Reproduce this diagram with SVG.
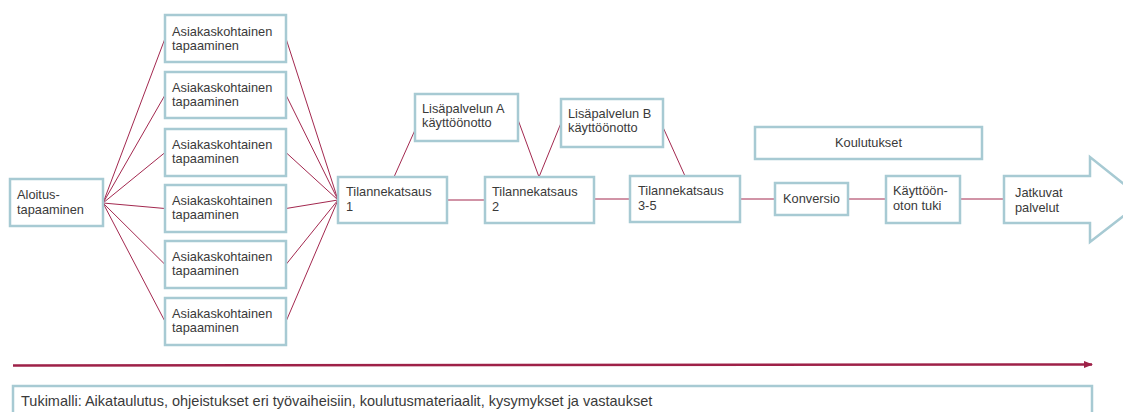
<svg xmlns="http://www.w3.org/2000/svg" width="1123" height="412" viewBox="0 0 1123 412">
<style>
.box{fill:#fff;stroke:#a7cad3;stroke-width:2.5}
.t{font-family:"Liberation Sans",Arial,sans-serif;font-size:12.8px;fill:#3a3a3a}
.c{stroke:#a3284f;stroke-width:1;fill:none}
</style>
<defs>
<marker id="ah" markerWidth="9" markerHeight="8" refX="8" refY="4" orient="auto" markerUnits="userSpaceOnUse">
<path d="M0,0.5 L9,4 L0,7.5 Z" fill="#9e2148"/>
</marker>
</defs>
<rect width="1123" height="412" fill="#fff"/>
<g id="connectors">
<path class="c" d="M103,203 L165,38.5 M103,203 L165,95 M103,203 L165,152.5 M103,203 L165,208.5 M103,203 L165,264.5 M103,203 L165,321.5"/>
<path class="c" d="M286,38.5 L338,200 M286,95 L338,200 M286,152.5 L338,200 M286,208.5 L338,200 M286,264.5 L338,200 M286,321.5 L338,200"/>
<path class="c" d="M394,177 L415,130 M517,117 L539,177 L561,123 M662,125 L685,176"/>
<path class="c" d="M447,200 L485,200 M594,199 L630,199 M740,199 L775,199 M848,199 L886,199 M960,199 L1004,199"/>
<line x1="13" y1="365.5" x2="1092" y2="364.5" stroke="#9e2148" stroke-width="2.5" marker-end="url(#ah)"/>
</g>
<g id="aloitus"><rect class="box" x="10" y="179" width="93" height="47"/><text class="t" x="17" y="199">Aloitus-</text><text class="t" x="17" y="214">tapaaminen</text></g>
<g id="asiakas1"><rect class="box" x="165" y="15" width="121" height="47"/><text class="t" x="172" y="36">Asiakaskohtainen</text><text class="t" x="172" y="50">tapaaminen</text></g>
<g id="asiakas2"><rect class="box" x="165" y="72" width="121" height="46"/><text class="t" x="172" y="92">Asiakaskohtainen</text><text class="t" x="172" y="106">tapaaminen</text></g>
<g id="asiakas3"><rect class="box" x="165" y="129" width="121" height="47"/><text class="t" x="172" y="149">Asiakaskohtainen</text><text class="t" x="172" y="163">tapaaminen</text></g>
<g id="asiakas4"><rect class="box" x="165" y="185" width="121" height="47"/><text class="t" x="172" y="205">Asiakaskohtainen</text><text class="t" x="172" y="219">tapaaminen</text></g>
<g id="asiakas5"><rect class="box" x="165" y="241" width="121" height="47"/><text class="t" x="172" y="261">Asiakaskohtainen</text><text class="t" x="172" y="275">tapaaminen</text></g>
<g id="asiakas6"><rect class="box" x="165" y="298" width="121" height="47"/><text class="t" x="172" y="318">Asiakaskohtainen</text><text class="t" x="172" y="332">tapaaminen</text></g>
<g id="tilanne1"><rect class="box" x="338" y="177" width="109" height="46"/><text class="t" x="346" y="196">Tilannekatsaus</text><text class="t" x="346" y="211">1</text></g>
<g id="tilanne2"><rect class="box" x="485" y="177" width="109" height="46"/><text class="t" x="492" y="196">Tilannekatsaus</text><text class="t" x="492" y="211">2</text></g>
<g id="tilanne3"><rect class="box" x="630" y="176" width="110" height="46"/><text class="t" x="638" y="195">Tilannekatsaus</text><text class="t" x="638" y="210">3-5</text></g>
<g id="lisaA"><rect class="box" x="415" y="94" width="103" height="47"/><text class="t" x="422" y="113">Lisäpalvelun A</text><text class="t" x="422" y="127">käyttöönotto</text></g>
<g id="lisaB"><rect class="box" x="561" y="99" width="102" height="48"/><text class="t" x="568" y="118">Lisäpalvelun B</text><text class="t" x="568" y="132">käyttöönotto</text></g>
<g id="koulutukset"><rect class="box" x="755" y="127" width="227" height="32"/><text class="t" x="868.5" y="147" text-anchor="middle">Koulutukset</text></g>
<g id="konversio"><rect class="box" x="775" y="183" width="73" height="32"/><text class="t" x="783" y="203">Konversio</text></g>
<g id="kayttoonoton"><rect class="box" x="886" y="176" width="74" height="47"/><text class="t" x="893" y="195">Käyttöön-</text><text class="t" x="893" y="210">oton tuki</text></g>
<g id="jatkuvat"><path class="box" d="M1004,176 L1090,176 L1090,157 L1144,200 L1090,242 L1090,223 L1004,223 Z"/><text class="t" x="1015" y="197">Jatkuvat</text><text class="t" x="1015" y="212">palvelut</text></g>
<g id="tukimalli"><rect class="box" x="13" y="386" width="1079" height="32"/><text class="t" x="21" y="406" style="font-size:14.5px">Tukimalli: Aikataulutus, ohjeistukset eri työvaiheisiin, koulutusmateriaalit, kysymykset ja vastaukset</text></g>
</svg>
